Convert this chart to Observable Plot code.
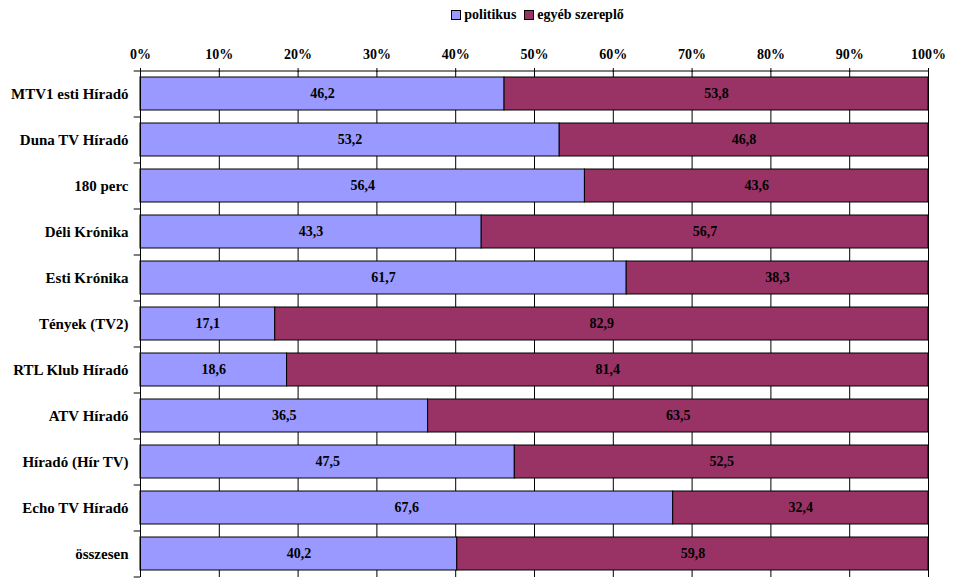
<!DOCTYPE html>
<html><head><meta charset="utf-8">
<script src="https://cdn.jsdelivr.net/npm/d3@7"></script>
<script src="https://cdn.jsdelivr.net/npm/@observablehq/plot@0.6"></script>
<style>
body{margin:0;background:#fff;font-family:"Liberation Serif","Times New Roman",Times,serif;}
#legend{height:30px;display:flex;justify-content:center;align-items:center;font-weight:bold;font-size:14px;padding-left:108px;box-sizing:border-box;}
#legend span.sw{display:inline-block;width:8px;height:8px;border:1px solid #000;margin-right:3px;}
#legend .it{display:flex;align-items:center;margin:0 4px;}
#chart svg text{font-family:"Liberation Serif","Times New Roman",Times,serif !important;}
</style></head>
<body>
<div id="legend"></div>
<div id="chart"></div>
<script>
const categories = ["MTV1 esti Híradó","Duna TV Híradó","180 perc","Déli Krónika","Esti Krónika","Tények (TV2)","RTL Klub Híradó","ATV Híradó","Híradó (Hír TV)","Echo TV Híradó","összesen"];
const seriesNames = ["politikus","egyéb szereplő"];
const politikus = [46.2,53.2,56.4,43.3,61.7,17.1,18.6,36.5,47.5,67.6,40.2];
const egyeb = [53.8,46.8,43.6,56.7,38.3,82.9,81.4,63.5,52.5,32.4,59.8];
const colors = ["#9999FF","#993366"];
const xTicks = [0,10,20,30,40,50,60,70,80,90,100];

const data = [];
categories.forEach((c,i)=>{
  data.push({cat:c, series:seriesNames[0], value:politikus[i]});
  data.push({cat:c, series:seriesNames[1], value:egyeb[i]});
});

const leg = document.getElementById("legend");
seriesNames.forEach((s,i)=>{
  const d=document.createElement("div");d.className="it";
  d.innerHTML=`<span class="sw" style="background:${colors[i]}"></span>${s}`;
  leg.appendChild(d);
});

const fmt = v => d3.format(".1f")(v).replace(".", ",");
const half = 23;

const chart = Plot.plot({
  width: 967,
  height: 558,
  marginTop: 41,
  marginBottom: 11,
  marginLeft: 140,
  marginRight: 39,
  style: {fontFamily: "'Liberation Serif', 'Times New Roman', serif", fontWeight: "bold", fontSize: "14px", color: "#000", background: "#fff"},
  x: {domain: [0,100], ticks: xTicks},
  y: {domain: categories, paddingInner: 0.28, paddingOuter: 0.14},
  color: {domain: seriesNames, range: colors},
  marks: [
    Plot.gridX({ticks: xTicks, stroke: "#000", strokeOpacity: 1, strokeWidth: 1}),
    Plot.barX(data, Plot.stackX({y: "cat", x: "value", fill: "series", stroke: "#000", strokeWidth: 1, order: null})),
    Plot.textX(data, Plot.stackX({y: "cat", x: "value", text: d => fmt(d.value), fill: "#000", order: null})),
    Plot.ruleX([0], {stroke: "#000"}),
    Plot.ruleY(categories, {y: d => d, x1: -0.8, x2: 0, dy: -half, stroke: "#000"}),
    Plot.ruleY([categories[categories.length-1]], {y: d => d, x1: -0.8, x2: 0, dy: half, stroke: "#000"}),
    Plot.ruleY([categories[0]], {y: d => d, x1: 0, x2: 100, dy: -half, stroke: "#000"}),
    Plot.axisX({anchor: "top", ticks: xTicks, tickFormat: d => d + "%", tickSize: 4, tickPadding: 9, label: null}),
    Plot.axisY({tickSize: 0, tickPadding: 12, label: null, fontSize: 15})
  ]
});
document.getElementById("chart").appendChild(chart);
</script>
</body></html>
